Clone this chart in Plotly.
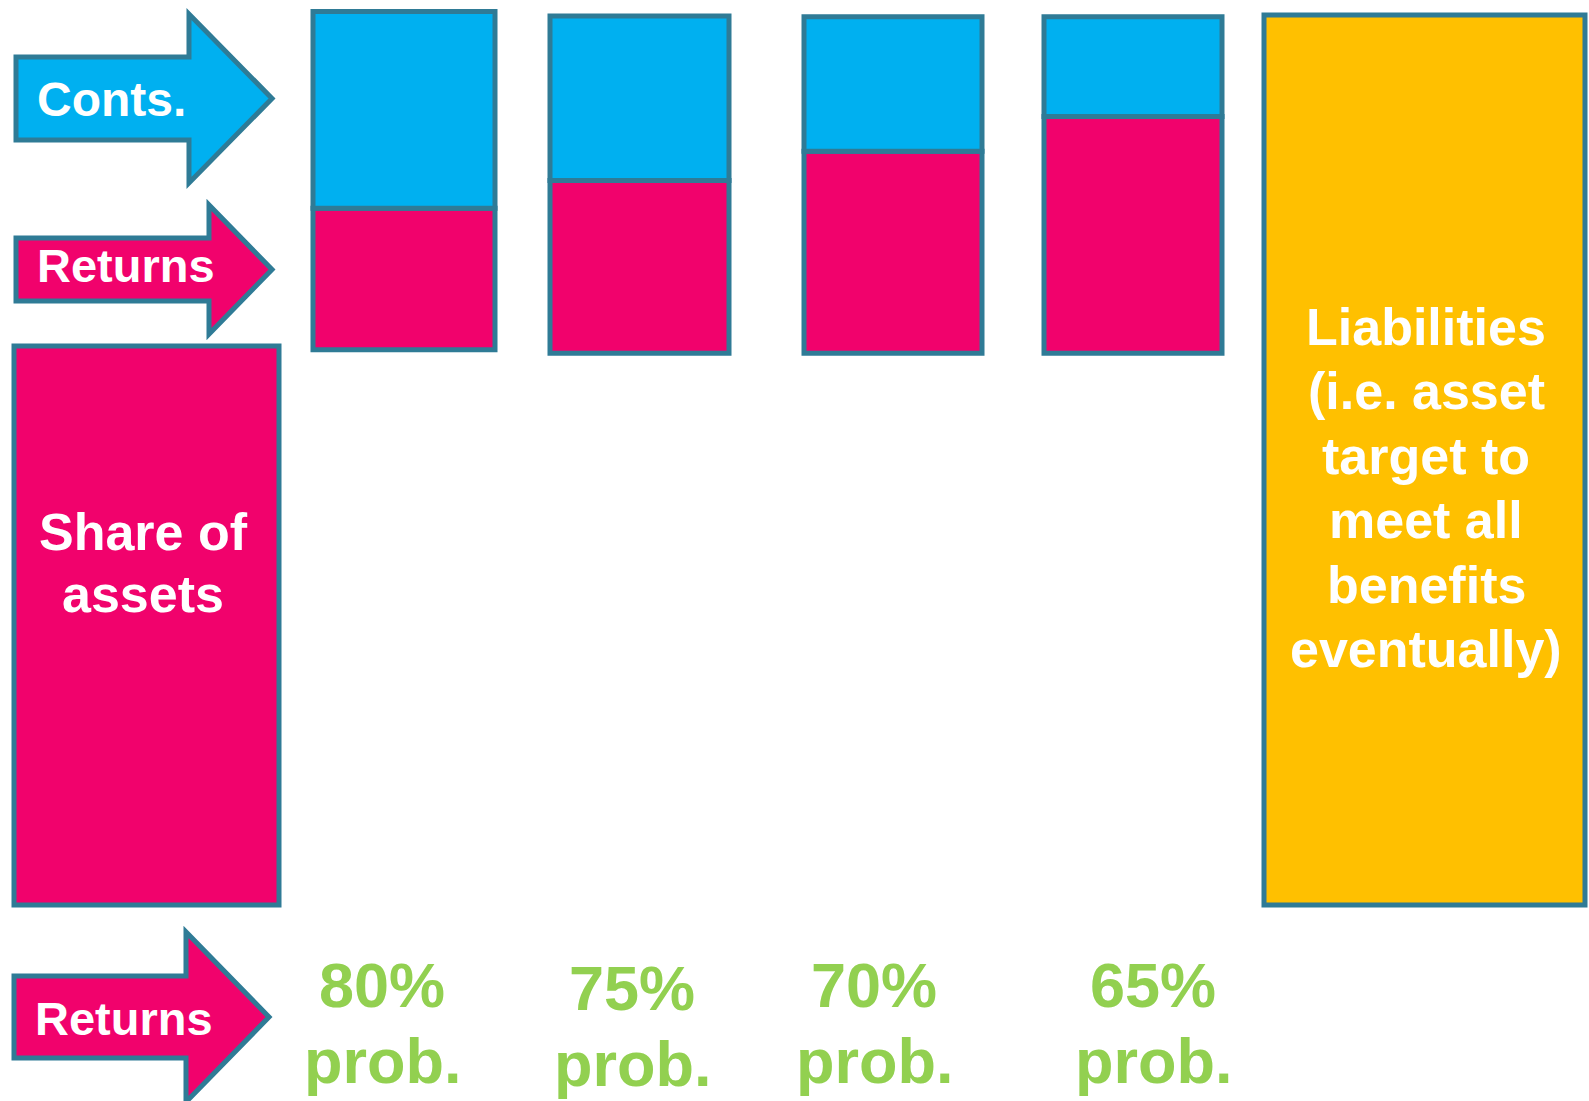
import plotly.graph_objects as go

# ---------------- data (units: % of liabilities) ----------------
scenarios = ["80%", "75%", "70%", "65%"]
prob_word = "prob."
liabilities = 100.0
assets_share = 62.8
scenario_base = [62.4, 62.0, 62.0, 62.0]
returns_vals = [15.9, 19.4, 22.7, 26.6]
conts_vals = [22.1, 18.5, 15.1, 11.2]
liab_lines = ["Liabilities", "(i.e. asset", "target to", "meet all", "benefits", "eventually)"]
asset_lines = ["Share of", "assets"]

# ---------------- layout / style constants ----------------
W, H = 1589, 1101
PINK = "#F1026C"
BLUE = "#00B0F0"
YELLOW = "#FFC000"
EDGE = "#2F7B96"
GREEN = "#92D050"
FONT = "Liberation Sans, Arial, sans-serif"
LW = 5
INSET = 2

# pixel geometry of the y axis (outline centre lines): value 0 at y=905px, value 100 at y=15px
Y0_PX, Y100_PX = 905, 15
scale = (Y0_PX - Y100_PX) / 100.0
y_top = Y0_PX / scale
y_bot = -(H - Y0_PX) / scale

scen_x = [404, 639.5, 893, 1133]
scen_w = [w - 2 * INSET for w in [186, 183, 182, 182]]
asset_x, asset_w = 146.5, 269 - 2 * INSET
liab_x, liab_w = 1424.5, 325 - 2 * INSET

fig = go.Figure()

# share of assets
fig.add_trace(go.Bar(x=[asset_x], y=[assets_share], base=[0], width=[asset_w],
                     marker=dict(color=PINK, line=dict(color=EDGE, width=LW)),
                     hoverinfo="skip"))
# liabilities
fig.add_trace(go.Bar(x=[liab_x], y=[liabilities], base=[0], width=[liab_w],
                     marker=dict(color=YELLOW, line=dict(color=EDGE, width=LW)),
                     hoverinfo="skip"))
# returns part of each scenario
fig.add_trace(go.Bar(x=scen_x, y=returns_vals, base=scenario_base, width=scen_w,
                     marker=dict(color=PINK, line=dict(color=EDGE, width=LW)),
                     hoverinfo="skip"))
# contributions part
conts_base = [b + r for b, r in zip(scenario_base, returns_vals)]
fig.add_trace(go.Bar(x=scen_x, y=conts_vals, base=conts_base, width=scen_w,
                     marker=dict(color=BLUE, line=dict(color=EDGE, width=LW)),
                     hoverinfo="skip"))


def px(x, y):
    return x / W, 1 - y / H


def arrow_path(x0, body_top, body_bot, head_x, head_top, head_bot, tip_x):
    # outer-edge geometry -> outline centre-line geometry
    x0 += INSET
    body_top += INSET
    body_bot -= INSET
    head_x += INSET
    head_top += 3
    head_bot -= 3
    tip_x -= 2
    tip_y = (head_top + head_bot) / 2
    pts = [(x0, body_top), (head_x, body_top), (head_x, head_top), (tip_x, tip_y),
           (head_x, head_bot), (head_x, body_bot), (x0, body_bot)]
    s = ""
    for i, (a, b) in enumerate(pts):
        u, v = px(a, b)
        s += ("M" if i == 0 else "L") + f"{u:.5f},{v:.5f} "
    return s + "Z"


arrows = [
    (BLUE, (14, 55, 142, 187, 11, 186, 274)),
    (PINK, (14, 236, 303, 207, 202, 337, 274)),
    (PINK, (12, 974, 1060, 184, 929, 1105, 271)),
]
shapes = []
for col, geo in arrows:
    shapes.append(dict(type="path", xref="paper", yref="paper", path=arrow_path(*geo),
                       fillcolor=col, line=dict(color=EDGE, width=LW), layer="above"))

annotations = []


def add_text(text, x, y, size, color, xanchor="center"):
    u, v = px(x, y)
    annotations.append(dict(text=f"<b>{text}</b>", x=u, y=v, xref="paper", yref="paper",
                            xanchor=xanchor, yanchor="middle", showarrow=False,
                            font=dict(family=FONT, size=size, color=color)))


add_text("Conts.", 35, 99, 48, "white", "left")
add_text("Returns", 35, 265, 47, "white", "left")
add_text("Returns", 33, 1018, 47, "white", "left")
for i, t in enumerate(asset_lines):
    add_text(t, 143, 532 + 62 * i, 52, "white")
for i, t in enumerate(liab_lines):
    add_text(t, 1426, 327 + 64.4 * i, 52, "white")
label_x = [382, 632, 874, 1153]
label_y = [985, 988, 985, 985]
for xc, t, ly in zip(label_x, scenarios, label_y):
    add_text(t, xc, ly, 63, GREEN)
    add_text(prob_word, xc, ly + 76, 63, GREEN)

fig.update_layout(
    width=W, height=H, margin=dict(l=0, r=0, t=0, b=0),
    paper_bgcolor="white", plot_bgcolor="white",
    barmode="overlay", showlegend=False,
    xaxis=dict(range=[0, W], visible=False, fixedrange=True),
    yaxis=dict(range=[y_bot, y_top], visible=False, fixedrange=True),
    shapes=shapes, annotations=annotations,
)

fig.write_html("out.html", config={"displayModeBar": False},
               post_script="document.body.style.margin='0';document.body.style.overflow='hidden';")
